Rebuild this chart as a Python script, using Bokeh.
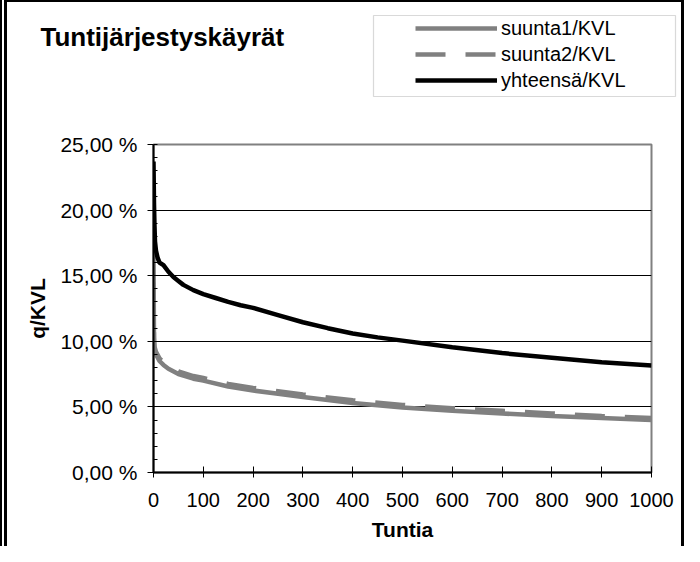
from bokeh.plotting import figure
from bokeh.models import (Legend, LegendItem, Label, BoxAnnotation, Div,
                          SingleIntervalTicker, FixedTicker, Range1d)
from bokeh.layouts import row, column
from bokeh.embed import file_html
from bokeh.resources import INLINE

# ---------------- data ----------------
title_text = "Tuntijärjestyskäyrät"
x_label = "Tuntia"
y_label = "q/KVL"

hours_total = [0, 1, 2, 3, 5, 8, 12, 20, 30, 40, 50, 60, 80, 100, 125, 150,
               175, 200, 250, 300, 350, 400, 450, 500, 600, 700, 800, 900, 1000]
total_kvl = [23.7, 20.5, 18.8, 17.6, 16.9, 16.4, 16.0, 15.8, 15.3, 14.9, 14.6,
             14.3, 13.9, 13.6, 13.3, 13.0, 12.75, 12.55, 12.0, 11.45, 11.0,
             10.6, 10.3, 10.05, 9.55, 9.1, 8.75, 8.4, 8.15]

hours_dir = [0, 1, 2, 5, 12, 20, 30, 50, 80, 100, 150, 200, 250, 300, 400,
             500, 600, 700, 800, 900, 1000]
dir1_kvl = [17.5, 10.0, 9.3, 9.0, 8.5, 8.2, 7.9, 7.5, 7.15, 7.0, 6.55, 6.25,
            6.0, 5.75, 5.3, 4.95, 4.7, 4.5, 4.3, 4.15, 4.0]
dir2_kvl = [14.5, 10.3, 9.6, 9.2, 8.7, 8.4, 8.1, 7.7, 7.35, 7.2, 6.75, 6.45,
            6.2, 5.95, 5.5, 5.15, 4.9, 4.7, 4.5, 4.3, 4.15]

series_names = ["suunta1/KVL", "suunta2/KVL", "yhteensä/KVL"]

x_ticks = [0, 100, 200, 300, 400, 500, 600, 700, 800, 900, 1000]
y_ticks = [0, 5, 10, 15, 20, 25]
y_tick_labels = ["0,00 %", "5,00 %", "10,00 %", "15,00 %", "20,00 %", "25,00 %"]

# ---------------- styles ----------------
FONT = "Liberation Sans"
GREY = "#808080"
TOTAL_W, TOTAL_H = 684, 546
LEFT_BAR_W, RIGHT_BAR_W, TOP_LINE_H = 7, 3, 2
INNER_W = TOTAL_W - LEFT_BAR_W - RIGHT_BAR_W
HEADER_H = 120
MAIN_H = TOTAL_H - TOP_LINE_H - HEADER_H

line_styles = [dict(line_color=GREY, line_width=4.5),
               dict(line_color=GREY, line_width=4.5, line_dash="30 20"),
               dict(line_color="black", line_width=4.5)]
series_data = [(hours_dir, dir1_kvl), (hours_dir, dir2_kvl),
               (hours_total, total_kvl)]

# ---------------- header: title and legend ----------------
header = figure(width=INNER_W, height=HEADER_H, output_backend="svg",
                toolbar_location=None, x_axis_location=None,
                y_axis_location=None,
                x_range=Range1d(0, INNER_W), y_range=Range1d(HEADER_H, 0),
                min_border=0, min_border_left=0, min_border_right=0,
                min_border_top=0, min_border_bottom=0)
header.frame_align = False
header.outline_line_color = None
header.grid.visible = False
header.background_fill_color = "white"
header.border_fill_color = "white"

header.add_layout(Label(x=33, y=34, text=title_text, text_font=FONT,
                        text_font_style="bold", text_font_size="26px",
                        text_color="black", text_baseline="alphabetic"))

header.add_layout(BoxAnnotation(left=366, right=668, top=13, bottom=94,
                                fill_color="white", fill_alpha=1.0,
                                line_color=GREY, line_width=1.2))

# legend-only renderers: the same series on ranges that keep them out of view
header.extra_x_ranges = {"hidden": Range1d(5000, 6000)}
header.extra_y_ranges = {"hidden": Range1d(500, 600)}
legend_r = [header.line(xs, ys, x_range_name="hidden", y_range_name="hidden",
                        **st)
            for (xs, ys), st in zip(series_data, line_styles)]
legend = Legend(items=[LegendItem(label=n, renderers=[r])
                       for n, r in zip(series_names, legend_r)],
                location=(408, 29), padding=0, margin=0, spacing=0,
                glyph_width=82, glyph_height=26, label_height=26,
                label_standoff=4, border_line_alpha=0,
                background_fill_alpha=0,
                label_text_font=FONT, label_text_font_size="20px",
                label_text_color="black")
header.add_layout(legend)

# ---------------- main chart ----------------
p = figure(width=INNER_W, height=MAIN_H, output_backend="svg",
           toolbar_location=None, x_range=(0, 1000), y_range=(0, 25),
           min_border_left=146, min_border_right=30,
           min_border_top=22, min_border_bottom=74)
p.frame_align = False
p.background_fill_color = "white"
p.border_fill_color = "white"
p.outline_line_color = GREY
p.outline_line_width = 2

r1, r2, r3 = [p.line(xs, ys, **st)
              for (xs, ys), st in zip(series_data, line_styles)]

p.xgrid.visible = False
p.ygrid.ticker = FixedTicker(ticks=y_ticks)
p.ygrid.grid_line_color = "black"
p.ygrid.grid_line_width = 1

xa = p.xaxis[0]
xa.ticker = FixedTicker(ticks=x_ticks)
xa.axis_line_color = "black"
xa.axis_line_width = 2
xa.major_tick_line_color = "black"
xa.major_tick_in = 6
xa.major_tick_out = 5
xa.minor_tick_line_color = None
xa.major_label_text_font = FONT
xa.major_label_text_font_size = "20px"
xa.major_label_text_color = "black"
xa.major_label_standoff = 15
xa.axis_label = x_label
xa.axis_label_text_font = FONT
xa.axis_label_text_font_style = "bold"
xa.axis_label_text_font_size = "21px"
xa.axis_label_text_color = "black"
xa.axis_label_standoff = 8

ya = p.yaxis[0]
ya.ticker = SingleIntervalTicker(interval=5, num_minor_ticks=5)
ya.major_label_overrides = {t: l for t, l in zip(y_ticks, y_tick_labels)}
ya.axis_line_color = "black"
ya.axis_line_width = 2
ya.major_tick_line_color = "black"
ya.major_tick_in = 0
ya.major_tick_out = 6
ya.minor_tick_line_color = "black"
ya.minor_tick_in = 4
ya.minor_tick_out = 0
ya.major_label_text_font = FONT
ya.major_label_text_font_size = "21px"
ya.major_label_text_color = "black"
ya.major_label_standoff = 10
ya.axis_label = y_label
ya.axis_label_text_font = FONT
ya.axis_label_text_font_style = "bold"
ya.axis_label_text_font_size = "21px"
ya.axis_label_text_color = "black"
ya.axis_label_standoff = 8

# ---------------- outer frame of the chart object ----------------
left_bar = Div(width=LEFT_BAR_W, height=TOTAL_H, margin=0,
               styles={"background": "linear-gradient(to right, black 0px, "
                       "black 2px, white 2px, white 4px, black 4px, black 7px)"})
right_bar = Div(width=RIGHT_BAR_W, height=TOTAL_H, margin=0,
                styles={"background-color": "black"})
top_line = Div(width=INNER_W, height=TOP_LINE_H, margin=0,
               styles={"background-color": "black"})

layout = row(left_bar, column(top_line, header, p, spacing=0), right_bar,
             spacing=0)

open("out.html", "w").write(file_html(layout, INLINE))
